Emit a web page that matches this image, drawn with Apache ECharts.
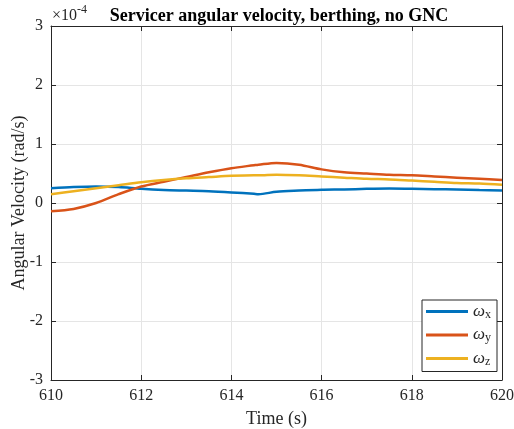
<!DOCTYPE html>
<html><head><meta charset="utf-8">
<script src="https://cdn.jsdelivr.net/npm/echarts@6/dist/echarts.min.js"></script>
<style>html,body{margin:0;padding:0;background:#fff}#c{width:514px;height:429px}</style>
</head><body><div id="c"></div>
<script>
// values in units of 1e-4 rad/s
const time = [610,610.5,611,611.5,612,612.5,613,613.5,614,614.5,614.6,615,615.5,616,616.5,617,617.5,618,618.5,619,619.5,620];
const omegaX = [0.25,0.27,0.28,0.27,0.24,0.22,0.21,0.20,0.18,0.155,0.15,0.19,0.21,0.225,0.23,0.24,0.245,0.24,0.235,0.23,0.22,0.21];
const omegaY = [-0.14,-0.10,0.0,0.15,0.28,0.36,0.44,0.52,0.59,0.64,0.65,0.68,0.65,0.57,0.52,0.50,0.48,0.47,0.45,0.43,0.41,0.39];
const omegaZ = [0.15,0.20,0.25,0.30,0.35,0.39,0.42,0.44,0.46,0.47,0.47,0.48,0.47,0.45,0.43,0.41,0.40,0.38,0.36,0.34,0.33,0.31];
const xTicks = [610,612,614,616,618,620];
const yTicks = [-3,-2,-1,0,1,2,3];
const seriesNames = ['x','y','z'];
const colors = ['#0072BD','#D95319','#EDB120'];

const F = '"Liberation Serif","Times New Roman",serif';
const chart = echarts.init(document.getElementById('c'), null, {renderer:'canvas'});
const pair = (arr) => time.map((t,i)=>[t,arr[i]]);
const axLine = {show:true, onZero:false, lineStyle:{color:'#262626', width:1}};
const tick = {show:true, inside:true, length:5, lineStyle:{color:'#262626'}};
chart.setOption({
  animation:false,
  title:{text:'Servicer angular velocity, berthing, no GNC', left:274, textAlign:'center', top:2,
    textStyle:{fontFamily:F, fontWeight:'bold', fontSize:18, color:'#000'}},
  graphic:[{type:'text', left:52, top:4, style:{
    text:'{a|×10}{b|-4}', rich:{a:{fontFamily:F, fontSize:16, fill:'#262626', lineHeight:20, verticalAlign:'bottom'}, b:{fontFamily:F, fontSize:12, fill:'#262626', lineHeight:14, verticalAlign:'top'}}}}],
  grid:{left:51, right:12, top:26, bottom:49, outerBoundsMode:'none', containLabel:false},
  color:colors,
  legend:{orient:'vertical', left:422, top:300, width:78,
    backgroundColor:'#fff', borderColor:'#262626', borderWidth:1,
    padding:[3,6,4,4], itemGap:6, itemWidth:42, itemHeight:3, icon:'rect',
    data:seriesNames.map(n=>'ω'+n),
    formatter:(name)=>'{w|ω}{s|'+name.slice(1)+'}',
    textStyle:{rich:{w:{fontFamily:F, fontSize:17, fontStyle:'italic', color:'#262626', lineHeight:18}, s:{fontFamily:F, fontSize:12, color:'#262626', lineHeight:9, verticalAlign:'bottom'}}}},
  xAxis:[{type:'value', min:610, max:620, interval:2,
    axisLine:axLine, axisTick:tick,
    axisLabel:{fontFamily:F, fontSize:16, color:'#262626', margin:8, customValues:xTicks},
    splitLine:{show:true, lineStyle:{color:'#e5e5e5'}},
    name:'Time (s)', nameLocation:'middle', nameGap:30, nameMoveOverlap:false,
    nameTextStyle:{fontFamily:F, fontSize:18, color:'#262626'}},
   {type:'value', position:'top', min:610, max:620, interval:2, axisLine:axLine, axisTick:tick, axisLabel:{show:false}, splitLine:{show:false}}],
  yAxis:[{type:'value', min:-3, max:3, interval:1,
    axisLine:axLine, axisTick:tick,
    axisLabel:{fontFamily:F, fontSize:16, color:'#262626', margin:8, customValues:yTicks},
    splitLine:{show:true, lineStyle:{color:'#e5e5e5'}},
    name:'Angular Velocity (rad/s)', nameLocation:'middle', nameGap:23, nameMoveOverlap:false,
    nameTextStyle:{fontFamily:F, fontSize:18, color:'#262626'}},
   {type:'value', position:'right', min:-3, max:3, interval:1, axisLine:axLine, axisTick:tick, axisLabel:{show:false}, splitLine:{show:false}}],
  series:[omegaX, omegaY, omegaZ].map((arr,i)=>({
    name:'ω'+seriesNames[i], type:'line', data:pair(arr), showSymbol:false, smooth:0.3,
    lineStyle:{width:2.5, color:colors[i]}, itemStyle:{color:colors[i]}, z:3+i}))
});
</script></body></html>
